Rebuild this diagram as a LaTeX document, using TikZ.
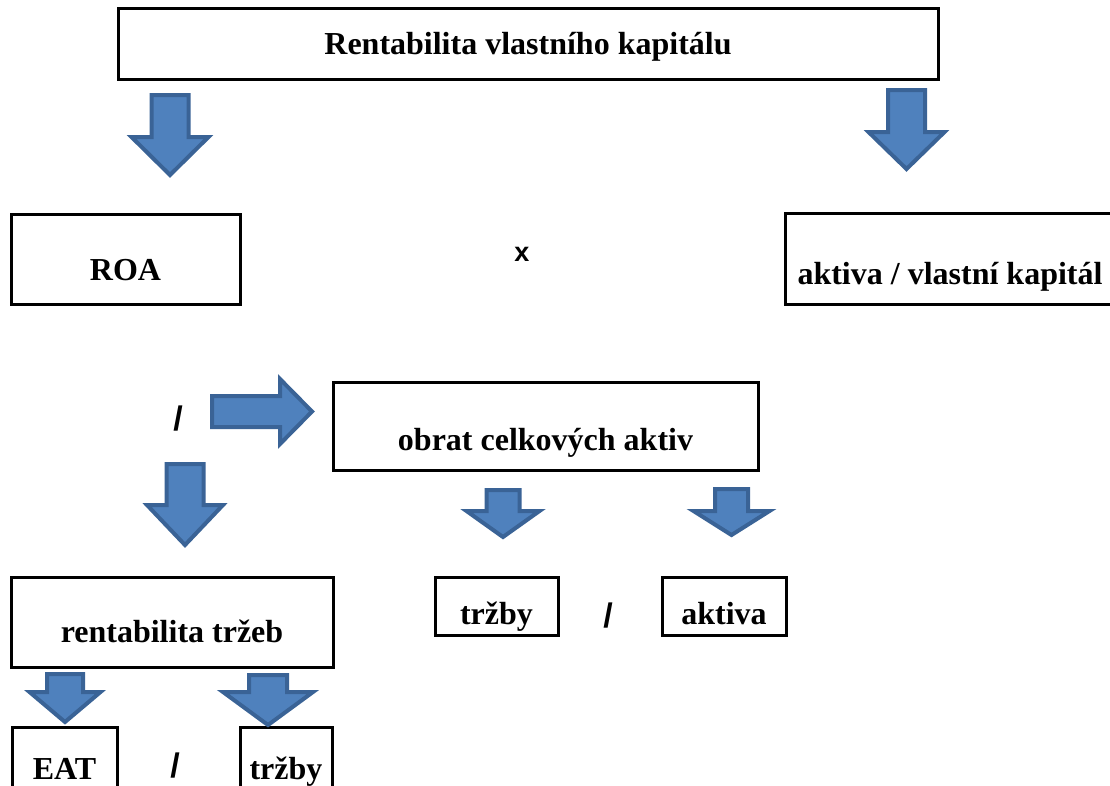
\documentclass[tikz,border=0pt]{standalone}
\usepackage{fontspec}
\setmainfont{Liberation Serif}
\newfontfamily\opsans{Liberation Sans}
\definecolor{arrfill}{HTML}{4F81BD}
\definecolor{arrline}{HTML}{3A6396}
\tikzset{
  box/.style={draw=black, line width=3pt, inner sep=0pt, outer sep=0pt,
    font=\fontsize{32}{37}\selectfont\bfseries},
  blockarrow/.style={fill=arrfill, draw=arrline, line width=4pt, line join=miter},
  opsign/.style={inner sep=0pt, font=\opsans\fontsize{34}{38}\selectfont\bfseries},
}
% \dnarrow{name}{cx}{top}{shaft half}{head y}{head half}{tip}
\newcommand{\dnarrow}[7]{%
  \draw[blockarrow] (#2-#4+2,#3+2) coordinate (#1) -- (#2+#4-2,#3+2) -- (#2+#4-2,#5)
    -- (#2+#6-3,#5) -- (#2,#7-3) -- (#2-#6+3,#5) -- (#2-#4+2,#5) -- cycle;}
\begin{document}
\begin{tikzpicture}[x=1pt,y=-1pt]
\useasboundingbox (0,0) rectangle (1110,785);
% boxes: text height = baseline-top, depth = bottom-baseline
\node[box, minimum width=820, text height=46, text depth=25] (rvk) at (528,43.5) {Rentabilita vlastního kapitálu};
\node[box, minimum width=229, text height=66, text depth=24] (roa) at (125.5,259) {ROA};
\node[box, minimum width=330, text height=71, text depth=20] (avk) at (950,258.5) {aktiva / vlastní kapitál};
\node[box, minimum width=425, text height=68, text depth=20] (oca) at (545.5,426) {obrat celkových aktiv};
\node[box, minimum width=322, text height=65, text depth=25] (rt) at (172,622) {rentabilita tržeb};
\node[box, minimum width=123, text height=47, text depth=11] (tr1) at (496.5,606) {tržby};
\node[box, minimum width=124, text height=47, text depth=11] (ak) at (724,606) {aktiva};
\node[box, minimum width=105, text height=52, text depth=19] (eat) at (64.5,762.5) {EAT};
\node[box, minimum width=92, text height=52, text depth=19] (tr2) at (286,762.5) {tržby};
% operators
\node[opsign, font=\opsans\fontsize{27}{30}\selectfont\bfseries] (times) at (522,254) {x};
\node[opsign] (div1) at (178,419) {/};
\node[opsign] (div2) at (608,616) {/};
\node[opsign] (div3) at (175,766) {/};
% block arrows
\dnarrow{a1}{170}{93}{20.5}{137}{41.5}{178}
\dnarrow{a2}{906.5}{88}{20.5}{132}{41}{172}
\dnarrow{a3}{185}{462}{20.5}{505}{41}{548}
\dnarrow{a4}{503}{488}{18.5}{511}{39.5}{540}
\dnarrow{a5}{731.5}{487}{18.5}{511}{41}{538}
\dnarrow{a6}{65}{672}{20}{692}{38.5}{725}
\dnarrow{a7}{268}{673}{21}{692}{48}{728}
\draw[blockarrow] (212,396) coordinate (a8) -- (280,396) -- (280,379) -- (312,411.5)
  -- (280,444) -- (280,427) -- (212,427) -- cycle;
\end{tikzpicture}
\end{document}
